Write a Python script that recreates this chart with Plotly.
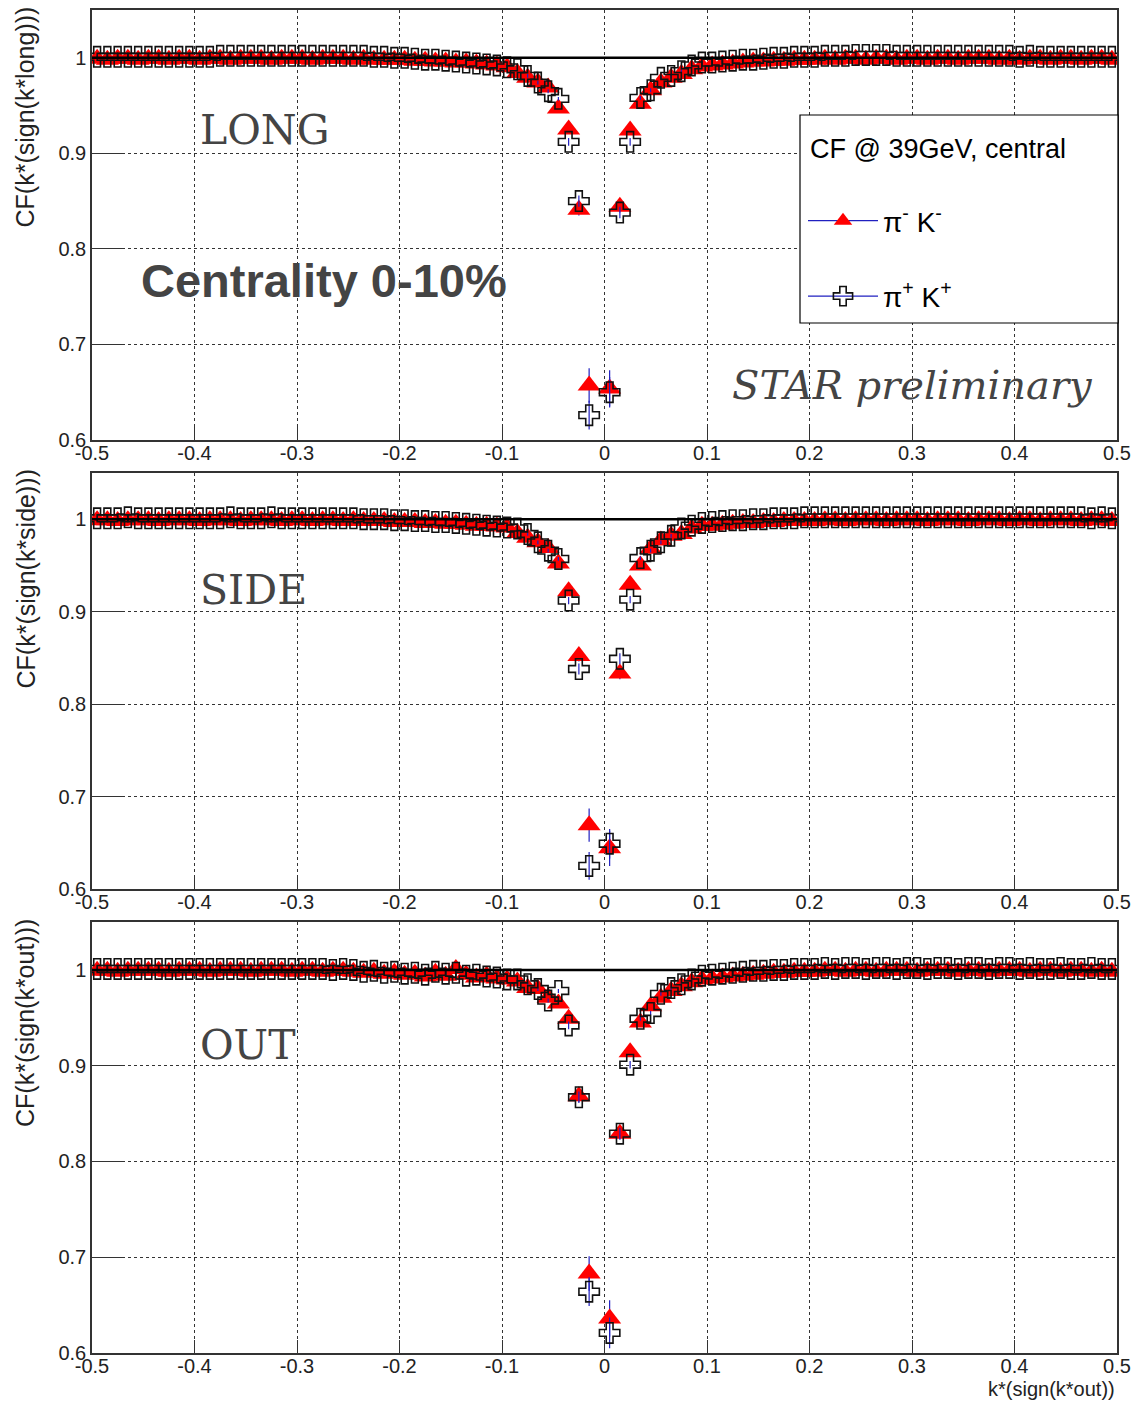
import numpy as np
import plotly.graph_objects as go

# ---------------- data ----------------
# bin centres (0.01 wide bins; the -0.005 bin is empty)
k_left = [round(-0.495 + 0.01 * i, 3) for i in range(49)]
k_right = [round(0.005 + 0.01 * i, 3) for i in range(50)]
kstar = k_left + k_right

long_pimkm = ([0.999, 0.998, 0.999, 0.999, 0.998, 0.999, 0.999, 0.998, 0.999, 0.999,
               0.998, 0.999, 0.999, 0.998, 0.999, 0.999, 0.999, 0.998, 0.999, 0.999,
               0.999, 0.998, 0.999, 0.999, 0.999, 0.998, 0.999, 0.998, 0.998, 0.998]
              + [0.998, 0.997, 0.997, 0.996, 0.996, 0.995, 0.995, 0.994, 0.993, 0.992]
              + [0.990, 0.984, 0.979, 0.974, 0.969, 0.947, 0.925, 0.841, 0.657]
              + [0.654, 0.844, 0.924, 0.952, 0.966, 0.974, 0.979, 0.983, 0.988, 0.991]
              + [0.992, 0.993, 0.994, 0.995, 0.996, 0.996, 0.997, 0.997, 0.998, 0.998]
              + [0.998, 0.999, 0.998, 0.999, 0.999, 0.998, 0.999, 0.999, 0.998, 0.999,
                 0.999, 0.998, 0.999, 0.999, 0.998, 0.999, 0.999, 0.999, 0.998, 0.999,
                 0.998, 0.999, 0.999, 0.998, 0.999, 0.999, 0.998, 0.999, 0.999, 0.998])
long_pipkp = ([1.001, 1.001, 1.001, 1.001, 1.001, 1.001, 1.001, 1.001, 1.001, 1.001,
               1.001, 1.001, 1.002, 1.002, 1.002, 1.002, 1.002, 1.002, 1.002, 1.002,
               1.002, 1.002, 1.002, 1.002, 1.002, 1.002, 1.002, 1.001, 1.001, 1.000]
              + [1.000, 0.999, 0.998, 0.998, 0.997, 0.996, 0.995, 0.994, 0.993, 0.992]
              + [0.990, 0.988, 0.981, 0.974, 0.965, 0.957, 0.912, 0.850, 0.626]
              + [0.650, 0.838, 0.912, 0.958, 0.966, 0.979, 0.981, 0.986, 0.992, 0.995]
              + [0.995, 0.996, 0.997, 0.998, 0.998, 0.999, 1.000, 1.000, 1.001, 1.001]
              + [1.001, 1.002, 1.002, 1.002, 1.003, 1.003, 1.003, 1.003, 1.002, 1.002,
                 1.002, 1.002, 1.002, 1.002, 1.002, 1.002, 1.002, 1.002, 1.002, 1.002,
                 1.001, 1.002, 1.001, 1.001, 1.001, 1.001, 1.001, 1.001, 1.001, 1.001])

side_pimkm = ([0.999, 0.999, 0.998, 0.999, 0.999, 0.999, 0.998, 0.999, 0.999, 0.999,
               0.998, 0.999, 0.999, 0.999, 0.998, 0.999, 0.999, 0.999, 0.998, 0.999,
               0.999, 0.998, 0.999, 0.999, 0.998, 0.999, 0.998, 0.998, 0.998, 0.997]
              + [0.997, 0.997, 0.996, 0.996, 0.995, 0.995, 0.994, 0.993, 0.993, 0.992]
              + [0.991, 0.985, 0.980, 0.975, 0.969, 0.952, 0.922, 0.852, 0.669]
              + [0.644, 0.833, 0.929, 0.950, 0.968, 0.977, 0.982, 0.984, 0.990, 0.993]
              + [0.993, 0.994, 0.995, 0.996, 0.996, 0.997, 0.997, 0.998, 0.998, 0.998]
              + [0.998, 0.999, 0.999, 0.998, 0.999, 0.999, 0.999, 0.998, 0.999, 0.999,
                 0.999, 0.998, 0.999, 0.999, 0.999, 0.998, 0.999, 0.999, 0.999, 0.998,
                 0.999, 0.999, 0.998, 0.999, 0.999, 0.999, 0.998, 0.999, 0.999, 0.998])
side_pipkp = ([1.001, 1.001, 1.001, 1.002, 1.001, 1.001, 1.001, 1.001, 1.001, 1.001,
               1.001, 1.001, 1.001, 1.002, 1.001, 1.001, 1.001, 1.002, 1.001, 1.001,
               1.001, 1.001, 1.001, 1.001, 1.001, 1.001, 1.000, 1.000, 1.000, 0.999]
              + [0.999, 0.998, 0.998, 0.997, 0.997, 0.996, 0.995, 0.994, 0.993, 0.992]
              + [0.991, 0.990, 0.984, 0.975, 0.966, 0.957, 0.912, 0.838, 0.625]
              + [0.649, 0.849, 0.913, 0.958, 0.966, 0.975, 0.982, 0.990, 0.993, 0.996]
              + [0.997, 0.998, 0.999, 0.999, 1.000, 1.000, 1.001, 1.001, 1.001, 1.002]
              + [1.002, 1.002, 1.002, 1.002, 1.002, 1.002, 1.002, 1.002, 1.002, 1.002,
                 1.002, 1.002, 1.002, 1.002, 1.002, 1.002, 1.002, 1.002, 1.002, 1.002,
                 1.002, 1.002, 1.002, 1.002, 1.002, 1.002, 1.002, 1.001, 1.002, 1.001])

out_pimkm = ([0.999, 0.999, 0.998, 0.999, 0.999, 0.999, 0.999, 0.998, 0.999, 0.999,
              0.999, 0.998, 0.999, 0.999, 0.999, 0.998, 0.999, 0.999, 0.999, 0.998,
              0.999, 0.999, 0.998, 0.999, 0.999, 0.998, 0.997, 0.998, 0.996, 0.997]
             + [0.995, 0.996, 0.993, 0.997, 0.994, 1.001, 0.995, 0.992, 0.994, 0.991]
             + [0.990, 0.988, 0.981, 0.980, 0.971, 0.965, 0.949, 0.868, 0.683]
             + [0.636, 0.829, 0.914, 0.945, 0.962, 0.971, 0.978, 0.983, 0.987, 0.990]
             + [0.991, 0.992, 0.993, 0.994, 0.995, 0.996, 0.997, 0.997, 0.998, 0.998]
             + [0.998, 0.999, 0.999, 0.998, 0.999, 0.999, 0.998, 0.999, 0.999, 0.999,
                0.998, 0.999, 0.999, 0.999, 0.998, 0.999, 0.999, 0.998, 0.999, 0.999,
                0.999, 0.998, 0.999, 0.999, 0.998, 0.999, 0.999, 0.998, 0.999, 0.998])
out_pipkp = ([1.001, 1.001, 1.001, 1.001, 1.001, 1.001, 1.001, 1.001, 1.001, 1.001,
              1.001, 1.001, 1.001, 1.001, 1.001, 1.001, 1.001, 1.001, 1.001, 1.001,
              1.001, 1.001, 1.001, 1.000, 1.001, 1.000, 0.998, 0.999, 0.997, 0.998]
             + [0.996, 0.997, 0.995, 0.998, 0.996, 0.997, 0.994, 0.995, 0.993, 0.992]
             + [0.990, 0.990, 0.985, 0.980, 0.968, 0.978, 0.942, 0.867, 0.664]
             + [0.621, 0.829, 0.901, 0.949, 0.955, 0.975, 0.981, 0.985, 0.990, 0.994]
             + [0.995, 0.996, 0.997, 0.998, 0.999, 0.999, 1.000, 1.000, 1.001, 1.001]
             + [1.001, 1.002, 1.001, 1.002, 1.002, 1.001, 1.002, 1.002, 1.001, 1.002,
                1.002, 1.001, 1.002, 1.002, 1.001, 1.002, 1.002, 1.001, 1.002, 1.002,
                1.001, 1.002, 1.001, 1.001, 1.002, 1.001, 1.001, 1.002, 1.001, 1.001])

# statistical errors (large only in the few central bins)
err_pimkm = [0.002] * 46 + [0.004, 0.006, 0.018] + [0.019, 0.006, 0.004] + [0.002] * 47
err_pipkp = [0.002] * 46 + [0.004, 0.006, 0.015] + [0.016, 0.006, 0.004] + [0.002] * 47

x_tick_vals = [-0.5, -0.4, -0.3, -0.2, -0.1, 0.0, 0.1, 0.2, 0.3, 0.4, 0.5]
x_tick_text = ["-0.5", "-0.4", "-0.3", "-0.2", "-0.1", "0", "0.1", "0.2", "0.3", "0.4", "0.5"]
y_tick_vals = [0.6, 0.7, 0.8, 0.9, 1.0]
y_tick_text = ["0.6", "0.7", "0.8", "0.9", "1"]

panels = [
    ("LONG", long_pimkm, long_pipkp, "CF(k*(sign(k*long)))"),
    ("SIDE", side_pimkm, side_pipkp, "CF(k*(sign(k*side)))"),
    ("OUT", out_pimkm, out_pipkp, "CF(k*(sign(k*out)))"),
]

# ---------------- layout geometry (pixels) ----------------
W, H = 1134, 1401
def px(x):
    return x / W
def py(y):
    return 1 - y / H

panel_px = [(10, 440), (473, 889), (922, 1353)]
x_dom = [px(92), px(1117)]

RED = "#ff0000"
BLUE = "#2020c0"
SANS = "Liberation Sans, Arial, sans-serif"
TICKFONT = dict(family=SANS, size=20, color="#222")

fig = go.Figure()
annotations = []
shapes = []

for i, (name, pm, pp, ytitle) in enumerate(panels):
    n = "" if i == 0 else str(i + 1)
    xa, ya = "x" + n, "y" + n
    fig.add_trace(go.Scatter(
        x=kstar, y=pm, mode="markers", xaxis=xa, yaxis=ya, showlegend=False,
        marker=dict(symbol="triangle-up", size=20, color=RED, line=dict(width=0)),
        error_y=dict(type="data", array=err_pimkm, color=BLUE, thickness=1.2, width=0),
    ))
    fig.add_trace(go.Scatter(
        x=kstar, y=pp, mode="markers", xaxis=xa, yaxis=ya, showlegend=False,
        marker=dict(symbol="cross-open", size=17, color="#111", line=dict(width=1.6)),
        error_y=dict(type="data", array=err_pipkp, color=BLUE, thickness=1.2, width=0),
    ))
    top, bot = panel_px[i]
    axis_common = dict(showline=True, mirror=True, linecolor="#333", linewidth=1.5,
                       showgrid=True, gridcolor="#333", griddash="dot", gridwidth=1,
                       zeroline=False, tickfont=TICKFONT, ticks="inside", tickcolor="#333",
                       automargin=False)
    fig.layout["xaxis" + n] = dict(domain=x_dom, range=[-0.5, 0.5], anchor=ya,
                                   tickvals=x_tick_vals, ticktext=x_tick_text,
                                   ticklen=13, ticklabelstandoff=-6, **axis_common)
    fig.layout["yaxis" + n] = dict(domain=[py(bot), py(top)], range=[0.6, 1.05], anchor=xa,
                                   tickvals=y_tick_vals, ticktext=y_tick_text,
                                   ticklen=32, **axis_common)
    shapes.append(dict(type="line", xref=xa, yref=ya, x0=-0.5, x1=0.5, y0=1, y1=1,
                       line=dict(color="black", width=2.5), layer="above"))
    annotations.append(dict(text=ytitle, xref="paper", yref="paper", x=px(25), y=py(top - 5),
                            xanchor="center", yanchor="top", textangle=-90, showarrow=False,
                            font=dict(family=SANS, size=25, color="#222")))

# label texts
SERIF = "DejaVu Serif, serif"
annotations += [
    dict(text="LONG", x=px(198), y=py(130), xanchor="left", yanchor="middle",
         font=dict(family=SERIF, size=41, color="#444")),
    dict(text="SIDE", x=px(198), y=py(590), xanchor="left", yanchor="middle",
         font=dict(family=SERIF, size=41, color="#444")),
    dict(text="OUT", x=px(198), y=py(1045), xanchor="left", yanchor="middle",
         font=dict(family=SERIF, size=41, color="#444")),
    dict(text="<b>Centrality 0-10%</b>", x=px(139), y=py(280), xanchor="left", yanchor="middle",
         font=dict(family=SANS, size=47, color="#444")),
    dict(text="<i>STAR preliminary</i>", x=px(1095), y=py(385), xanchor="right", yanchor="middle",
         font=dict(family=SERIF, size=40, color="#444")),
    dict(text="CF @ 39GeV, central", x=px(808), y=py(149), xanchor="left", yanchor="middle",
         font=dict(family=SANS, size=27, color="black")),
    dict(text="k*(sign(k*out))", x=px(1117), y=py(1389), xanchor="right", yanchor="middle",
         font=dict(family=SANS, size=20, color="#222")),
]
for a in annotations:
    a.setdefault("xref", "paper")
    a.setdefault("yref", "paper")
    a.setdefault("showarrow", False)

# legend box
shapes.append(dict(type="rect", xref="paper", yref="paper", x0=px(800), x1=px(1118),
                   y0=py(323), y1=py(115), line=dict(color="black", width=1.2),
                   fillcolor="white", layer="above"))

# legend entries
fig.add_trace(go.Scatter(x=[None], y=[None], mode="lines+markers", name="π<sup>-</sup> K<sup>-</sup>",
                         legendgroup="a", line=dict(color=BLUE, width=1.2),
                         marker=dict(symbol="triangle-up", size=20, color=RED, line=dict(width=0))))
fig.add_trace(go.Scatter(x=[None], y=[None], mode="lines+markers", name="π<sup>+</sup> K<sup>+</sup>",
                         legendgroup="b", line=dict(color=BLUE, width=1.2),
                         marker=dict(symbol="cross-open", size=17, color="#111", line=dict(width=1.6))))

fig.update_layout(
    width=W, height=H, margin=dict(l=0, r=0, t=0, b=0, autoexpand=False),
    plot_bgcolor="white", paper_bgcolor="white",
    annotations=annotations, shapes=shapes,
    showlegend=True,
    legend=dict(x=px(803), y=py(196), xanchor="left", yanchor="top",
                bgcolor="rgba(0,0,0,0)", borderwidth=0, tracegroupgap=36,
                itemwidth=70,
                font=dict(family=SANS, size=28, color="black")),
)

fig.write_html("out.html")
